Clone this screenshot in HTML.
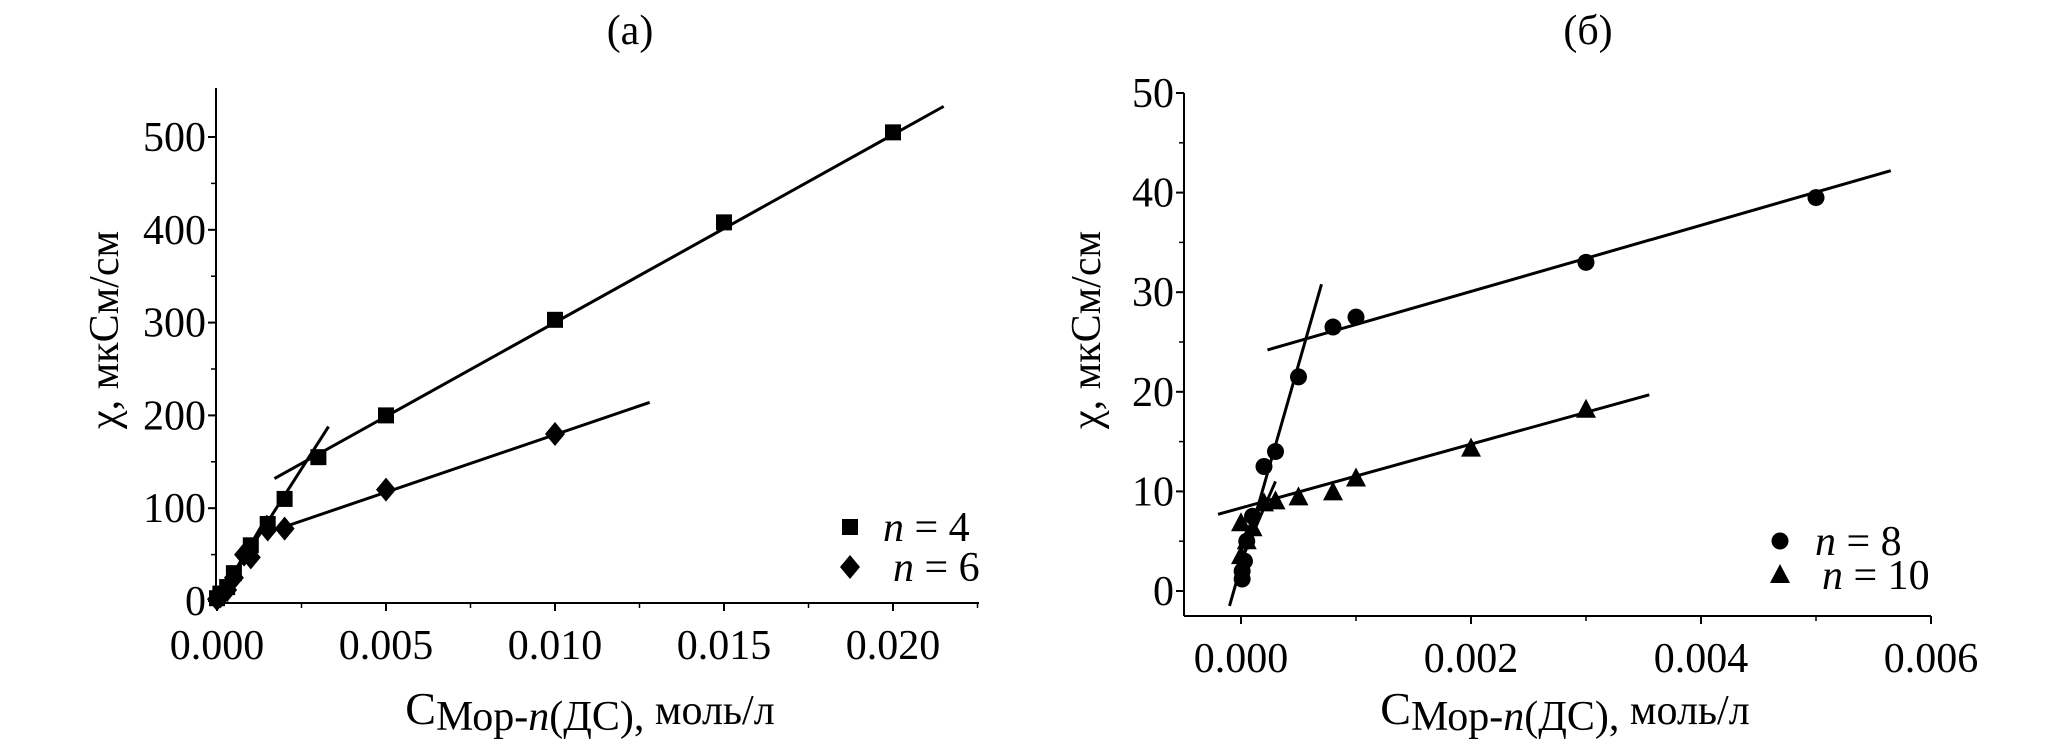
<!DOCTYPE html>
<html><head><meta charset="utf-8"><style>
html,body{margin:0;padding:0;background:#fff}
svg{display:block}
text{font-family:"Liberation Serif","DejaVu Serif",serif;fill:#000}
</style></head><body>
<svg id="c" width="2067" height="744" viewBox="0 0 2067 744"></svg>
<script>
// Panel (a) data
const aN4X=[0.020,0.015,0.010,0.005,0.003,0.002,0.0015,0.001,0.0005,0.0003,0.0001,0];
const aN4Y=[505,408,303,200,155,110,83,60,30,15,8,3];
const aN6X=[0.010,0.005,0.002,0.0015,0.001,0.0008,0.0005,0.0003,0.0001,0];
const aN6Y=[180,120,78,77,47,50,25,12,5,2];
const aFitX=[[0.0017,0.0215],[0,0.0033],[0.002,0.0128],[0,0.0015]];
const aFitY=[[132,533],[0,188],[80,214],[0,92]];
const aXTicks=["0.000","0.005","0.010","0.015","0.020"];
const aXTickVals=[0,0.005,0.010,0.015,0.020];
const aYTickVals=[0,100,200,300,400,500];
// Panel (б) data
const bN8X=[0.005,0.003,0.001,0.0008,0.0005,0.0003,0.0002,0.0001,0.00005,0.00003,0.00001,0.00001];
const bN8Y=[39.5,33,27.5,26.5,21.5,14,12.5,7.5,5,3,2,1.2];
const bN10X=[0.003,0.002,0.001,0.0008,0.0005,0.0003,0.0002,0.0001,0.00005,0,0];
const bN10Y=[18.2,14.3,11.3,9.9,9.4,9,8.8,6.3,5,6.8,3.5];
const bFitX=[[0.00023,0.00565],[-0.0001,0.0007],[-0.0002,0.00355],[0,0.0003]];
const bFitY=[[24.2,42.2],[-1.5,30.8],[7.7,19.7],[3,11]];
const bXTicks=["0.000","0.002","0.004","0.006"];
const bXTickVals=[0,0.002,0.004,0.006];
const bYTickVals=[0,10,20,30,40,50];

const svg=document.getElementById('c');
const NS='http://www.w3.org/2000/svg';
function mk(tag,attrs,parent){const e=document.createElementNS(NS,tag);for(const k in attrs)e.setAttribute(k,attrs[k]);(parent||svg).appendChild(e);return e;}

function panel(o){
  const g=mk('g',{});
  
  
  const X=v=>o.px0+(v-o.x0)/(o.x1-o.x0)*(o.px1-o.px0);
  const Y=v=>o.py0+(v-o.y0)/(o.y1-o.y0)*(o.py1-o.py0);
  const ya=mk('line',{x1:o.axL,y1:o.axT,x2:o.axL,y2:o.axB,stroke:'#000','stroke-width':2},g);
  
  const xa=mk('line',{x1:o.axL,y1:o.axB,x2:o.axR,y2:o.axB,stroke:'#000','stroke-width':2},g);
  
  o.yTicks.forEach(v=>{
    mk('line',{x1:o.axL-8,y1:Y(v),x2:o.axL,y2:Y(v),stroke:'#000','stroke-width':2},g);
    const t=mk('text',{x:o.axL-10,y:Y(v)+14,'font-size':42,'text-anchor':'end'},g);
    t.textContent=String(v);
    
  });
  for(let v=o.yTicks[0]+o.yMinor;v<o.yTicks[o.yTicks.length-1]+o.yMinor;v+=o.yMinor){
    if(Y(v)<o.axT-1)break;
    mk('line',{x1:o.axL-5,y1:Y(v),x2:o.axL,y2:Y(v),stroke:'#000','stroke-width':1.5},g);
  }
  o.xTickVals.forEach((v,i)=>{
    mk('line',{x1:X(v),y1:o.axB,x2:X(v),y2:o.axB+8,stroke:'#000','stroke-width':2},g);
    const t=mk('text',{x:X(v),y:o.axB+56,'font-size':42,'text-anchor':'middle'},g);
    t.textContent=o.xTicks[i];
    
  });
  for(let v=o.xMinorStart;X(v)<=o.axR+1;v+=o.xMinor){
    mk('line',{x1:X(v),y1:o.axB,x2:X(v),y2:o.axB+5,stroke:'#000','stroke-width':1.5},g);
  }
  o.fitX.forEach((fx,i)=>{
    const l=mk('line',{x1:X(fx[0]),y1:Y(o.fitY[i][0]),x2:X(fx[1]),y2:Y(o.fitY[i][1]),stroke:'#000','stroke-width':3},g);
    
  });
  o.series.forEach(s=>{
    s.x.forEach((xv,i)=>{
      const cx=X(xv),cy=Y(s.y[i]);
      const m=marker(s.shape,cx,cy,g);
      
    });
  });
  const tt=mk('text',{x:o.titleX,y:44,'font-size':42,'text-anchor':'middle'},g);
  tt.textContent=o.title;
  const yl=mk('text',{x:0,y:0,'font-size':42,'text-anchor':'middle',transform:`translate(${o.ylX},${o.ylY}) rotate(-90)`},g);
  yl.textContent='χ, мкСм/см';
  const xl=mk('text',{x:o.xlX,y:724,'font-size':42,'text-anchor':'middle'},g);
  xl.innerHTML='<tspan font-size="46">C</tspan><tspan dy="6">Мор-</tspan><tspan font-style="italic">n</tspan><tspan>(ДС), </tspan><tspan dy="-6"> моль/л</tspan>';
  
  o.legend.forEach(L=>{
    const m=marker(L.shape,L.mx,L.my,g);
    
    const t=mk('text',{x:L.tx,y:L.my+14,'font-size':42},g);
    t.innerHTML='<tspan font-style="italic">n</tspan> = '+L.n;
    
  });
}
function marker(shape,cx,cy,g){
  if(shape==='sq')return mk('rect',{x:cx-8,y:cy-8,width:16,height:16,fill:'#000'},g);
  if(shape==='di')return mk('polygon',{points:`${cx},${cy-12} ${cx+10},${cy} ${cx},${cy+12} ${cx-10},${cy}`,fill:'#000'},g);
  if(shape==='ci')return mk('circle',{cx:cx,cy:cy,r:8.5,fill:'#000'},g);
  return mk('polygon',{points:`${cx},${cy-11} ${cx+10},${cy+8} ${cx-10},${cy+8}`,fill:'#000'},g);
}

panel({name:'panel-a',x0:0,x1:0.020,px0:217,px1:893,y0:0,y1:500,py0:601,py1:137,
  axL:216,axR:979,axT:88,axB:603,yTicks:aYTickVals,yMinor:50,xTicks:aXTicks,xTickVals:aXTickVals,
  xMinor:0.0025,xMinorStart:0.0025,fitX:aFitX,fitY:aFitY,
  series:[{name:'n4',shape:'sq',x:aN4X,y:aN4Y},{name:'n6',shape:'di',x:aN6X,y:aN6Y}],
  title:'(a)',titleX:630,ylX:118,ylY:330,xlX:590,
  legend:[{shape:'sq',mx:850,my:527,tx:883,n:'4'},{shape:'di',mx:850,my:567,tx:893,n:'6'}]});
panel({name:'panel-b',x0:0,x1:0.006,px0:1241,px1:1931,y0:0,y1:50,py0:591,py1:93,
  axL:1184,axR:1931,axT:93,axB:616,yTicks:bYTickVals,yMinor:5,xTicks:bXTicks,xTickVals:bXTickVals,
  xMinor:0.001,xMinorStart:0.001,fitX:bFitX,fitY:bFitY,
  series:[{name:'n8',shape:'ci',x:bN8X,y:bN8Y},{name:'n10',shape:'tr',x:bN10X,y:bN10Y}],
  title:'(б)',titleX:1588,ylX:1100,ylY:330,xlX:1565,
  legend:[{shape:'ci',mx:1780,my:541,tx:1815,n:'8'},{shape:'tr',mx:1780,my:575,tx:1822,n:'10'}]});
</script>
</body></html>
